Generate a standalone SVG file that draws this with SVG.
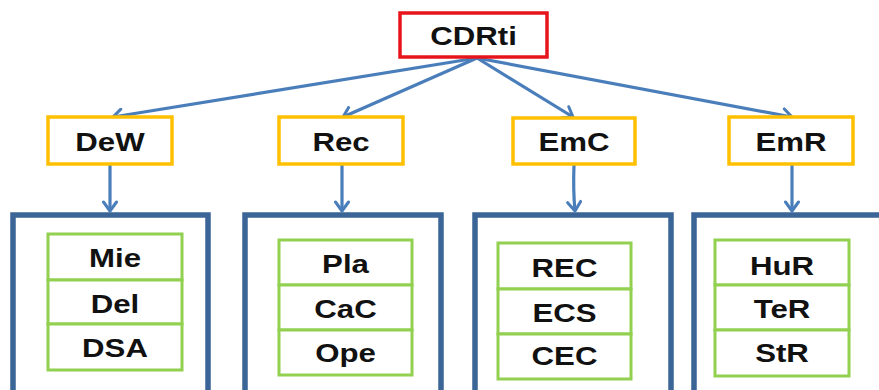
<svg xmlns="http://www.w3.org/2000/svg" width="879" height="390" viewBox="0 0 879 390">
<defs>
<style>
.t{font-family:"Liberation Sans",Arial,sans-serif;font-weight:bold;font-size:26px;fill:#111;text-anchor:middle}
.root{fill:#fff;stroke:#E8141B;stroke-width:3.5}
.mid{fill:#fff;stroke:#FFC000;stroke-width:3.5}
.grp{fill:#fff;stroke:#3B6497;stroke-width:5.5}
.cell{fill:#fff;stroke:#92D050;stroke-width:3}
.con{fill:none;stroke:#4A7EBB;stroke-width:3.2}
</style>
<marker id="ah" markerUnits="userSpaceOnUse" markerWidth="16" markerHeight="16" viewBox="-10 -8 12 16" refX="0" refY="0" orient="auto">
<path d="M-9,-6.5 L0,0 L-9,6.5" fill="none" stroke="#4A7EBB" stroke-width="3" stroke-linecap="round" stroke-linejoin="round"/>
</marker>
</defs>
<rect width="879" height="390" fill="#fff"/>
<g id="connectors">
<line class="con" x1="477" y1="58" x2="113" y2="117" marker-end="url(#ah)"/>
<line class="con" x1="477" y1="58" x2="343" y2="117" marker-end="url(#ah)"/>
<line class="con" x1="477" y1="58" x2="573" y2="117" marker-end="url(#ah)"/>
<line class="con" x1="477" y1="58" x2="792" y2="117" marker-end="url(#ah)"/>
<line class="con" x1="110" y1="165" x2="110" y2="211" marker-end="url(#ah)"/>
<line class="con" x1="342" y1="165" x2="342" y2="211" marker-end="url(#ah)"/>
<path class="con" d="M574,165 Q573,190 575,211" marker-end="url(#ah)"/>
<line class="con" x1="792" y1="165" x2="792" y2="211" marker-end="url(#ah)"/>
</g>
<g id="CDRti">
<rect class="root" x="400" y="13" width="147" height="44"/>
<text class="t" transform="translate(473.5,45) scale(1.2,1)">CDRti</text>
</g>
<g id="DeW">
<rect class="mid" x="48" y="117" width="124" height="47"/>
<text class="t" transform="translate(110,151) scale(1.2,1)">DeW</text>
</g>
<g id="Rec">
<rect class="mid" x="279" y="117" width="124" height="47"/>
<text class="t" transform="translate(341,151) scale(1.2,1)">Rec</text>
</g>
<g id="EmC">
<rect class="mid" x="513" y="118" width="122" height="46"/>
<text class="t" transform="translate(574,151) scale(1.2,1)">EmC</text>
</g>
<g id="EmR">
<rect class="mid" x="729" y="117" width="124" height="47"/>
<text class="t" transform="translate(791,151) scale(1.2,1)">EmR</text>
</g>
<g id="group1">
<rect class="grp" x="13" y="215" width="195" height="200"/>
<rect class="cell" x="48" y="234" width="134" height="46"/>
<rect class="cell" x="48" y="280" width="134" height="44"/>
<rect class="cell" x="48" y="324" width="134" height="46"/>
<text class="t" transform="translate(115,267) scale(1.2,1)">Mie</text>
<text class="t" transform="translate(115,313) scale(1.2,1)">Del</text>
<text class="t" transform="translate(115,357) scale(1.2,1)">DSA</text>
</g>
<g id="group2">
<rect class="grp" x="245" y="215" width="196" height="200"/>
<rect class="cell" x="279" y="240" width="133" height="45"/>
<rect class="cell" x="279" y="285" width="133" height="45"/>
<rect class="cell" x="279" y="330" width="133" height="45"/>
<text class="t" transform="translate(345.5,273) scale(1.2,1)">Pla</text>
<text class="t" transform="translate(345.5,318) scale(1.2,1)">CaC</text>
<text class="t" transform="translate(345.5,362) scale(1.2,1)">Ope</text>
</g>
<g id="group3">
<rect class="grp" x="475" y="215" width="196" height="200"/>
<rect class="cell" x="498" y="243" width="133" height="46"/>
<rect class="cell" x="498" y="289" width="133" height="45"/>
<rect class="cell" x="498" y="334" width="133" height="45"/>
<text class="t" transform="translate(564.5,277) scale(1.2,1)">REC</text>
<text class="t" transform="translate(564.5,322) scale(1.2,1)">ECS</text>
<text class="t" transform="translate(564.5,365) scale(1.2,1)">CEC</text>
</g>
<g id="group4">
<rect class="grp" x="694" y="215" width="200" height="200"/>
<rect class="cell" x="715" y="240" width="134" height="45"/>
<rect class="cell" x="715" y="285" width="134" height="45"/>
<rect class="cell" x="715" y="330" width="134" height="46"/>
<text class="t" transform="translate(782,275) scale(1.2,1)">HuR</text>
<text class="t" transform="translate(782,318) scale(1.2,1)">TeR</text>
<text class="t" transform="translate(782,362) scale(1.2,1)">StR</text>
</g>
</svg>
